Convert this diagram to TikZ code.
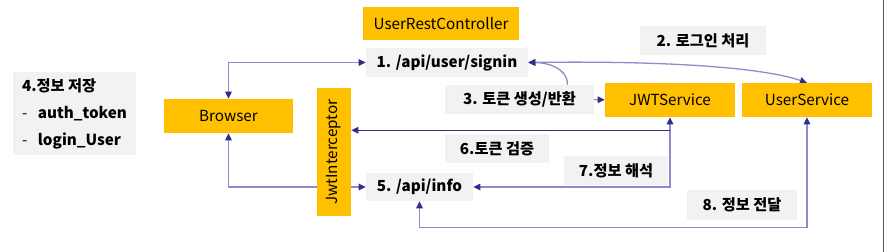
\documentclass[tikz,border=0pt]{standalone}
\usepackage{fontspec}
\setmainfont{Noto Sans CJK KR}
\usepackage{tikz}
\usetikzlibrary{arrows.meta,positioning,calc,backgrounds}
\definecolor{BoxOrange}{HTML}{FFC000}
\definecolor{NoteGray}{HTML}{F2F2F2}
\definecolor{LinkLavender}{RGB}{140,140,204}
\definecolor{LinkNavy}{RGB}{46,46,138}

\begin{document}
\begin{tikzpicture}[x=0.03cm,y=-0.03cm,
    >={Triangle[length=6pt,width=5.5pt,color=LinkNavy]},
    comp/.style={fill=BoxOrange,inner sep=0pt,font=\fontsize{13}{15}\selectfont},
    note/.style={fill=NoteGray,inner sep=0pt,font=\fontsize{13}{15}\selectfont\bfseries},
    lnk/.style={draw=LinkLavender,line width=1.1pt},
    dk/.style={draw=LinkNavy,line width=1pt}]
  \useasboundingbox (0,0) rectangle (884,252);
  \draw[gray!70!black,line width=0.8pt] (883.5,0) -- (883.5,252);
  % components
  \node[comp,minimum width=4.68cm,minimum height=0.99cm] (ctrl) at (441,23.5) {UserRestController};
  \node[comp,minimum width=3.87cm,minimum height=1.02cm] (browser) at (228.5,116) {Browser};
  \node[comp,rotate=90,minimum width=3.84cm,minimum height=1.02cm] (intc) at (334,152) {JwtInterceptor};
  \node[comp,minimum width=3.9cm,minimum height=1.02cm] (jwt) at (670,100) {JWTService};
  \node[comp,minimum width=3.9cm,minimum height=1.02cm] (usvc) at (807,100) {UserService};
  % notes
  \node[note,minimum width=4.86cm,minimum height=0.87cm] (signin) at (447,62.5) {1. /api/user/signin};
  \node[note,minimum width=3.78cm,minimum height=0.87cm] (login) at (703,40.5) {2. 로그인 처리};
  \node[note,minimum width=4.47cm,minimum height=0.87cm] (token) at (519.5,99.5) {3. 토큰 생성/반환};
  \node[fill=NoteGray,inner sep=0pt,minimum width=3.69cm,minimum height=2.49cm,align=left,
        font=\fontsize{13}{23}\selectfont] (store) at (74.5,113.5)
        {\textbf{4.정보 저장}\\-\hspace{9pt}\textbf{auth\_token}\\-\hspace{9pt}\textbf{login\_User}};
  \node[note,minimum width=3.21cm,minimum height=0.84cm] (info) at (419.5,187) {5. /api/info};
  \node[note,minimum width=3.12cm,minimum height=0.87cm] (verify) at (497,148.5) {6.토큰 검증};
  \node[note,minimum width=3.12cm,minimum height=0.87cm] (parse) at (616,170.5) {7.정보 해석};
  \node[note,minimum width=3.3cm,minimum height=0.9cm] (deliver) at (742,205) {8. 정보 전달};
  % connectors
  \begin{pgfonlayer}{background}
  \draw[lnk,<->] (browser.north) |- (signin.west);
  \draw[lnk,<->] (signin.east) .. controls +(150,-2) and +(-40,-14) .. (usvc.north);
  \draw[lnk,->] ($(token.north)+(48,0)$) to[out=90,in=0] (signin.east);
  \draw[lnk,->] (token) -- (jwt);
  \draw[lnk,<->] (jwt.south) |- (info.east);
  \coordinate (brk) at ($(jwt.south)+(0,13)$);
  \draw[dk,->] (brk) -- (brk -| intc.south);
  \draw[lnk,<->] (usvc.south) -- ++(0,110) -| (info.south);
  \draw[lnk,<->] (browser.south) |- (info.west);
  \end{pgfonlayer}
\end{tikzpicture}
\end{document}
